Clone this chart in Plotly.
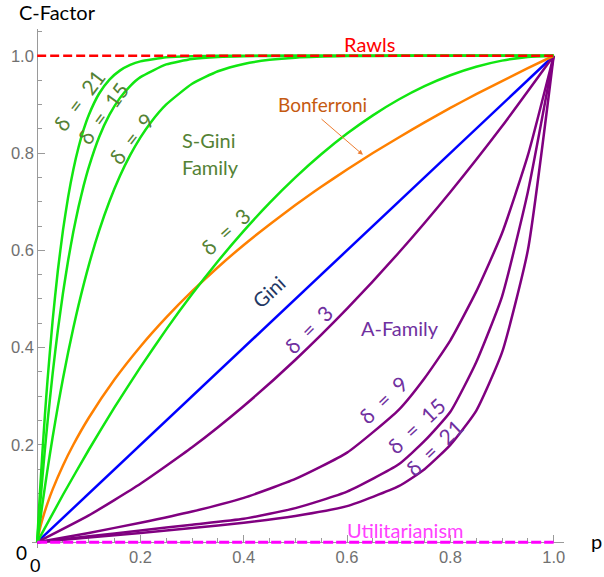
import plotly.graph_objects as go

# ---------------- data ----------------
p_gini = [0.0, 1.0]
c_gini = [0.0, 1.0]

p_rawls = [0.0, 1.0]
c_rawls = [1.0, 1.0]

p_util = [0.0, 1.0]
c_util = [0.0, 0.0]

p_bonf = [0, 0.005, 0.01, 0.02, 0.03, 0.05, 0.07, 0.1, 0.15, 0.2, 0.25, 0.3, 0.35, 0.4, 0.45, 0.5,
          0.55, 0.6, 0.65, 0.7, 0.75, 0.8, 0.85, 0.9, 0.95, 1.0]
c_bonf = [0, 0.0266, 0.0465, 0.0798, 0.1085, 0.1577, 0.2002, 0.2558, 0.3348, 0.4024, 0.4621, 0.516,
          0.5653, 0.611, 0.6533, 0.693, 0.7307, 0.766, 0.800, 0.832, 0.863, 0.893, 0.9209, 0.948,
          0.9746, 1.0]

p_sg3 = [0, 0.05, 0.1, 0.15, 0.2, 0.25, 0.3, 0.35, 0.4, 0.45, 0.5, 0.55, 0.6, 0.65, 0.7, 0.75, 0.8, 0.85, 0.9, 0.95, 1.0]
c_sg3 = [0, 0.0975, 0.19, 0.2775, 0.36, 0.4375, 0.51, 0.5775, 0.64, 0.6975, 0.75, 0.7975, 0.84,
         0.8775, 0.91, 0.9375, 0.96, 0.9775, 0.99, 0.9975, 1.0]

p_sg9 = [0, 0.01, 0.02, 0.03, 0.04, 0.05, 0.06, 0.07, 0.08, 0.1, 0.12, 0.14, 0.16, 0.18, 0.2, 0.22,
         0.25, 0.3, 0.35, 0.4, 0.45, 0.5, 0.6, 0.7, 0.8, 0.9, 1.0]
c_sg9 = [0, 0.0773, 0.1492, 0.2163, 0.2786, 0.3366, 0.3904, 0.4404, 0.4868, 0.5695, 0.6404, 0.7008,
         0.7521, 0.7956, 0.8322, 0.863, 0.8999, 0.9424, 0.9681, 0.9832, 0.9916, 0.9961, 0.9993,
         0.9999, 1.0, 1.0, 1.0]

p_sg15 = [0, 0.005, 0.01, 0.015, 0.02, 0.03, 0.04, 0.05, 0.06, 0.07, 0.08, 0.09, 0.1, 0.12, 0.14,
          0.16, 0.18, 0.2, 0.25, 0.3, 0.35, 0.4, 0.5, 0.6, 0.7, 0.8, 0.9, 1.0]
c_sg15 = [0, 0.0678, 0.1313, 0.1907, 0.2464, 0.3472, 0.4353, 0.5123, 0.5795, 0.638, 0.6888, 0.7329,
          0.7712, 0.833, 0.8789, 0.9129, 0.9378, 0.956, 0.9822, 0.9932, 0.9976, 0.9992, 0.9999,
          1.0, 1.0, 1.0, 1.0, 1.0]

p_sg21 = [0, 0.005, 0.01, 0.015, 0.02, 0.03, 0.04, 0.05, 0.06, 0.07, 0.08, 0.09, 0.1, 0.12, 0.14,
          0.16, 0.18, 0.2, 0.25, 0.3, 0.35, 0.4, 0.5, 0.6, 0.7, 0.8, 0.9, 1.0]
c_sg21 = [0, 0.0954, 0.1821, 0.2609, 0.3324, 0.4562, 0.558, 0.6415, 0.7099, 0.7658, 0.8113, 0.8484,
          0.8784, 0.9224, 0.951, 0.9694, 0.9811, 0.9885, 0.9968, 0.9992, 0.9998, 1.0, 1.0, 1.0,
          1.0, 1.0, 1.0, 1.0]

p_a3 = [0, 0.1, 0.2, 0.3, 0.4, 0.5, 0.6, 0.7, 0.8, 0.9, 1.0]
c_a3 = [0, 0.055, 0.12, 0.195, 0.28, 0.375, 0.48, 0.595, 0.72, 0.855, 1.0]

p_afam = [0, 0.1, 0.2, 0.3, 0.4, 0.5, 0.6, 0.7, 0.75, 0.8, 0.85, 0.9, 0.95, 1.0]
c_a9 = [0, 0.019, 0.040, 0.063, 0.091, 0.130, 0.184, 0.272, 0.337, 0.415, 0.515, 0.635, 0.795, 1.0]
c_a15 = [0, 0.012, 0.024, 0.036, 0.048, 0.070, 0.104, 0.160, 0.208, 0.268, 0.370, 0.505, 0.720, 1.0]
c_a21 = [0, 0.0095, 0.019, 0.029, 0.040, 0.054, 0.074, 0.115, 0.150, 0.200, 0.270, 0.390, 0.600, 1.0]

tick_vals = [0.2, 0.4, 0.6, 0.8, 1.0]
tick_text = ["0.2", "0.4", "0.6", "0.8", "1.0"]

# ---------------- styles ----------------
GREEN = "#11e611"
ORANGE = "#ff8000"
BLUE = "#0000ff"
PURPLE = "#800080"
RED = "#ff0000"
MAGENTA = "#ff00ff"
LW = 2.5

fig = go.Figure()

def curve(x, y, color, width=LW, dash=None, shape="spline"):
    fig.add_trace(go.Scatter(
        x=x, y=y, mode="lines",
        line=dict(color=color, width=width, dash=dash, shape=shape, smoothing=0.5),
        hoverinfo="skip", showlegend=False))

curve(p_gini, c_gini, BLUE, shape="linear")
for c in (c_a9, c_a15, c_a21):
    curve(p_afam, c, PURPLE)
curve(p_a3, c_a3, PURPLE)
curve(p_bonf, c_bonf, ORANGE)
curve(p_sg3, c_sg3, GREEN)
curve(p_sg9, c_sg9, GREEN)
curve(p_sg15, c_sg15, GREEN)
curve(p_sg21, c_sg21, GREEN)
curve(p_rawls, c_rawls, RED, width=2.5, dash="9px,4px", shape="linear")
curve(p_util, c_util, MAGENTA, width=3, dash="10px,3px", shape="linear")

W, H = 604, 577
L, R, T, B = 31.5, 39.5, 29.3, 29.2
x_rng = [-0.01, 1.02]
y_rng = [-0.012, 1.055]

# pixel -> data helpers for label placement
def X(px):
    return (px - 36.7) / 517.3

def Y(py):
    return (542 - py) / 486.0

def PX(px):
    return (px - L) / (W - L - R)

def PY(py):
    return 1 - (py - T) / (H - T - B)

LBL = "Lato, Noto Sans, sans-serif"
SP = "\u00a0\u00a0"

def label(px, py, text, color, size=19, angle=0, family=LBL):
    fig.add_annotation(x=X(px), y=Y(py), xref="x", yref="y", text=text,
                       showarrow=False, textangle=angle,
                       font=dict(family=family, size=size, color=color),
                       xanchor="center", yanchor="middle")

def plabel(px, py, text, size=20):
    fig.add_annotation(x=PX(px), y=PY(py), xref="paper", yref="paper", text=text,
                       showarrow=False, font=dict(family=LBL, size=size, color="black"),
                       xanchor="center", yanchor="middle")

def dlabel(px, py, num, color, angle):
    label(px, py, "δ" + SP + "=" + SP + num, color, size=21, angle=angle)

DG = "#548235"
PU = "#7030a0"

label(370, 44, "Rawls", RED, size=20)
label(322, 105, "Bonferroni", "#c55a11")
label(209, 140, "S-Gini", DG, size=20)
label(210, 167, "Family", DG, size=20)
dlabel(79, 100, "21", DG, -53)
dlabel(103, 113, "15", DG, -54)
dlabel(131, 139, "9", DG, -52)
dlabel(225, 232, "3", DG, -42)
label(268, 292, "Gini", "#1f3864", size=20, angle=-43)
dlabel(308, 330, "3", PU, -45)
label(400, 328, "A-Family", PU, size=20)
dlabel(383, 399, "9", PU, -44)
dlabel(416, 425, "15", PU, -43)
dlabel(434, 447, "21", PU, -44)
label(406, 530, "Utilitarianism", "#ff40ff", size=20)

# Bonferroni arrow
fig.add_annotation(x=X(363), y=Y(155), ax=X(320), ay=Y(118), xref="x", yref="y",
                   axref="x", ayref="y", text="", showarrow=True,
                   arrowhead=2, arrowsize=1, arrowwidth=1, arrowcolor="#ed7d31")

# axis titles and origin zeros
plabel(57, 12, "C-Factor")
plabel(597, 541, "p")
plabel(21, 552, "0", size=19)
plabel(34.5, 565, "0", size=18)

axis_common = dict(
    showgrid=False, zeroline=False, showline=True, linecolor="#9a9a9a", linewidth=1,
    ticks="inside", ticklen=7, tickcolor="#9a9a9a", tickwidth=1,
    tickmode="array", tickvals=tick_vals, ticktext=tick_text,
    tickfont=dict(family="Liberation Sans, Arial, sans-serif", size=16.5, color="#707070"),
    minor=dict(tickmode="linear", tick0=0, dtick=0.05, ticks="inside", ticklen=4,
               tickcolor="#9a9a9a", showgrid=False),
    anchor="free", fixedrange=True, automargin=False, layer="below traces",
)

fig.update_layout(
    width=W, height=H,
    margin=dict(l=L, r=R, t=T, b=B, autoexpand=False),
    paper_bgcolor="white", plot_bgcolor="white",
    xaxis=dict(axis_common, range=x_rng, position=(0 - y_rng[0]) / (y_rng[1] - y_rng[0])),
    yaxis=dict(axis_common, range=y_rng, position=(0 - x_rng[0]) / (x_rng[1] - x_rng[0])),
    showlegend=False,
)

fig.write_html("out.html", config={"displayModeBar": False},
               post_script="document.body.style.margin='0px';document.body.style.overflow='hidden';")
